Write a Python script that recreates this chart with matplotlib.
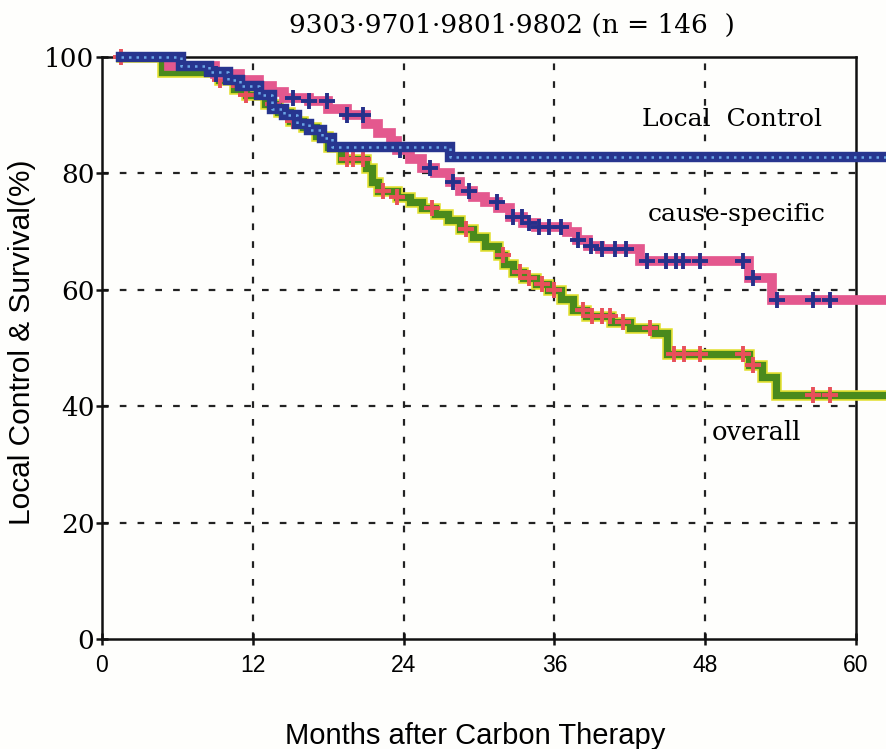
import numpy as np
import matplotlib
matplotlib.use("Agg")
import matplotlib.pyplot as plt

# ---------------- data ----------------
title = "9303\u00b79701\u00b79801\u00b79802 (n = 146  )"
xlabel = "Months after Carbon Therapy"
ylabel = "Local Control & Survival(%)"
x_ticks = [0, 12, 24, 36, 48, 60]
y_ticks = [0, 20, 40, 60, 80, 100]

# Local control (step times, survival %)
lc_t = [1.5, 6.3, 8.5, 10.0, 11.0, 12.5, 13.5, 14.5, 15.5, 16.5, 17.5, 18.3, 27.7]
lc_v = [100, 98.5, 97.5, 96.0, 95.0, 93.5, 91.0, 90.0, 88.5, 87.5, 86.0, 84.5, 82.9]

# Cause-specific survival
cs_t = [1.5, 5.3, 9.0, 11.0, 12.5, 13.5, 14.5, 16.5, 18.0, 19.5, 21.0, 22.0, 23.0, 23.5,
        24.5, 25.5, 26.5, 27.7, 28.5, 29.5, 30.5, 31.5, 32.5, 33.5, 34.5, 37.0, 37.8,
        38.7, 39.6, 42.8, 51.5, 53.3]
cs_v = [100, 98.5, 97.0, 96.0, 95.0, 94.0, 93.0, 92.5, 91.0, 90.0, 88.5, 87.0, 85.5, 84.0,
        82.5, 81.0, 80.0, 78.5, 77.0, 76.0, 75.0, 74.0, 72.5, 71.5, 70.8, 70.0, 68.5,
        67.5, 67.0, 65.0, 62.0, 58.3]
cs_censor = [9.1, 15.2, 16.5, 17.9, 19.5, 20.8, 23.7, 26.1, 27.9, 29.2, 31.4, 32.7, 33.4,
             34.0, 34.8, 35.6, 36.5, 37.9, 38.9, 39.8, 40.8, 41.7, 43.4, 44.9, 45.7, 46.2,
             47.6, 51.0, 51.8, 53.7, 56.6, 57.9]

# Overall survival
os_t = [1.5, 4.8, 9.3, 10.5, 11.5, 13.0, 14.0, 15.0, 16.0, 17.0, 18.0, 19.0, 21.0, 21.5,
        22.0, 23.5, 24.5, 25.5, 26.5, 27.5, 28.5, 29.5, 30.5, 31.5, 32.0, 32.7, 33.5,
        34.5, 35.5, 36.5, 37.5, 38.5, 40.5, 42.0, 44.0, 45.0, 51.5, 52.5, 53.6]
os_v = [100, 97.5, 96.0, 94.5, 93.5, 92.0, 90.5, 89.0, 88.0, 86.5, 84.5, 82.5, 81.0, 78.5,
        77.0, 76.0, 75.0, 74.0, 73.0, 72.0, 70.5, 69.0, 67.5, 66.0, 64.5, 63.0, 62.0,
        61.0, 60.0, 58.5, 56.5, 55.5, 54.5, 53.5, 52.5, 49.0, 47.0, 45.0, 42.0]
os_censor = [1.5, 9.4, 10.4, 11.5, 13.6, 14.7, 15.2, 16.3, 19.5, 20.0, 20.8, 22.4, 23.5,
             26.3, 29.0, 31.9, 33.3, 34.0, 35.0, 36.0, 38.3, 39.0, 39.8, 40.4, 41.5,
             43.6, 45.5, 46.3, 47.6, 51.0, 51.8, 56.6, 57.9]

t_end = 62.6  # curves run past the frame to the image edge


def step_value(times, values, x):
    idx = np.searchsorted(np.asarray(times), x, side="right") - 1
    idx = np.clip(idx, 0, len(values) - 1)
    return np.asarray(values)[idx]


def extend(times, values):
    return list(times) + [t_end], list(values) + [values[-1]]


# ---------------- figure ----------------
bg = "#fefefc"
fig = plt.figure(figsize=(8.86, 7.49), dpi=100)
fig.patch.set_facecolor(bg)
ax = fig.add_axes([0.1151, 0.1469, 0.851, 0.7770])
ax.set_facecolor(bg)
ax.set_xlim(0, 60)
ax.set_ylim(0, 100)

# grid
for gx in x_ticks[1:-1]:
    ax.axvline(gx, color="#222222", lw=1.6, ls=(0, (3, 5)), zorder=1)
for gy in y_ticks[1:-1]:
    ax.axhline(gy, color="#222222", lw=1.6, ls=(0, (3, 5)), zorder=1)

# overall
tx, vx = extend(os_t, os_v)
ax.plot(tx, vx, drawstyle="steps-post", color="#e2e030", lw=7.6, clip_on=False, zorder=3,
        solid_joinstyle="miter")
ax.plot(tx, vx, drawstyle="steps-post", color="#4a8a1c", lw=5.2, clip_on=False, zorder=3.1,
        solid_joinstyle="miter")
ax.plot(os_censor, step_value(os_t, os_v, np.array(os_censor)), ls="none", marker="+",
        ms=11.5, mew=2.8, color="#e8505a", zorder=3.2, clip_on=False)

# cause-specific
tx, vx = extend(cs_t, cs_v)
ax.plot(tx, vx, drawstyle="steps-post", color="#e4588e", lw=7.0, clip_on=False, zorder=4,
        solid_joinstyle="miter")
ax.plot(cs_censor, step_value(cs_t, cs_v, np.array(cs_censor)), ls="none", marker="+",
        ms=11.5, mew=2.8, color="#26308a", zorder=4.1, clip_on=False)

# local control
tx, vx = extend(lc_t, lc_v)
ax.plot(tx, vx, drawstyle="steps-post", color="#27358f", lw=7.5, clip_on=False, zorder=5,
        solid_joinstyle="miter")
ax.plot(tx, vx, drawstyle="steps-post", color="#6aa6e6", lw=1.8, ls=(0, (1, 2)),
        clip_on=False, zorder=5.1)

# labels in plot
serif = ["DejaVu Serif"]
ax.text(43.0, 89.2, "Local  Control", family=serif, fontsize=18, va="center", ha="left", zorder=6)
ax.text(43.4, 72.9, "cause-specific", family=serif, fontsize=18, va="center", ha="left", zorder=6)
ax.text(48.5, 35.5, "overall", family=serif, fontsize=18.5, va="center", ha="left", zorder=6)

# axes styling
for s in ax.spines.values():
    s.set_linewidth(1.8)
    s.set_color("#111111")
ax.set_xticks(x_ticks)
ax.set_yticks(y_ticks)
ax.tick_params(axis="both", direction="inout", length=9, width=1.8, color="#111111")
ax.set_xticklabels([str(v) for v in x_ticks], family=["Liberation Sans", "DejaVu Sans"],
                   fontsize=16.5)
ax.set_yticklabels([str(v) for v in y_ticks], family=serif, fontsize=19)
ax.tick_params(axis="y", pad=1)
ax.tick_params(axis="x", pad=6)

fig.text(0.578, 0.966, title, family=serif, fontsize=19, ha="center", va="center")
fig.text(0.536, 0.018, xlabel, family=["Liberation Sans", "DejaVu Sans"], fontsize=21,
         ha="center", va="center")
fig.text(0.025, 0.543, ylabel, family=["Liberation Sans", "DejaVu Sans"], fontsize=21.5,
         ha="center", va="center", rotation=90)

fig.savefig("out.png", dpi=100, facecolor=fig.get_facecolor())
